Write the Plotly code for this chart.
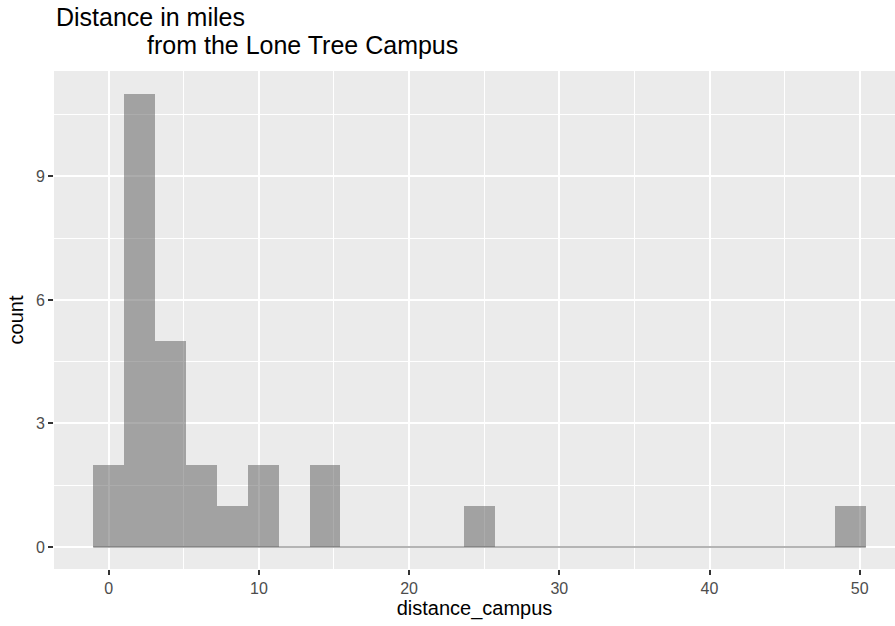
import plotly.graph_objects as go

# Histogram data (25 bins, ggplot-style, first bin centred at 0)
bin_start = 0.0
bin_width = 2.0575
counts = [2, 11, 5, 2, 1, 2, 0, 2, 0, 0, 0, 0, 1, 0, 0, 0, 0, 0, 0, 0, 0, 0, 0, 0, 1]
x_ticks = [0, 10, 20, 30, 40, 50]
y_ticks = [0, 3, 6, 9]
title_line1 = "Distance in miles"
title_line2 = "from the Lone Tree Campus"

centers = [bin_start + i * bin_width for i in range(len(counts))]
left_edge = centers[0] - bin_width / 2
right_edge = centers[-1] + bin_width / 2

FONT = "Liberation Sans, Arial, Helvetica, sans-serif"
fill = "rgba(89,89,89,0.5)"

fig = go.Figure()
fig.add_trace(go.Scatter(x=[left_edge, right_edge], y=[0, 0], mode="lines",
                         line=dict(color="rgba(89,89,89,0.6)", width=1.5), hoverinfo="skip",
                         showlegend=False))
fig.add_trace(go.Bar(x=centers, y=counts, width=bin_width,
                     marker=dict(color=fill, line=dict(width=0)),
                     showlegend=False))

fig.update_layout(
    width=895, height=626,
    margin=dict(l=54, r=0, t=71, b=57),
    paper_bgcolor="white", plot_bgcolor="#EBEBEB",
    bargap=0,
    font=dict(family=FONT, color="black"),
    xaxis=dict(range=[-3.64, 52.35], tickvals=x_ticks, ticktext=[str(v) for v in x_ticks],
               showgrid=True, gridcolor="white", gridwidth=2, zeroline=False,
               ticks="outside", ticklen=5, tickwidth=1.5, tickcolor="#333333",
               tickfont=dict(size=16, color="#4D4D4D"),
               minor=dict(tick0=5, dtick=10, showgrid=True, gridcolor="white", gridwidth=1, ticks=""),
               title=dict(text="distance_campus", font=dict(size=20, color="black"), standoff=4),
               showline=False, fixedrange=True),
    yaxis=dict(range=[-0.534, 11.56], tickvals=y_ticks, ticktext=[str(v) for v in y_ticks],
               showgrid=True, gridcolor="white", gridwidth=2, zeroline=False,
               ticks="outside", ticklen=5, tickwidth=1.5, tickcolor="#333333",
               tickfont=dict(size=16, color="#4D4D4D"),
               minor=dict(tick0=1.5, dtick=3, showgrid=True, gridcolor="white", gridwidth=1, ticks=""),
               title=dict(text="count", font=dict(size=20, color="black"), standoff=6),
               showline=False, fixedrange=True),
    annotations=[
        dict(text=title_line1, xref="paper", yref="paper",
             x=(54 - 54) / 841, y=1 + (71 - 26) / 498, xanchor="left", yanchor="bottom",
             yshift=-7, showarrow=False, font=dict(size=25, color="black", family=FONT)),
        dict(text=title_line2, xref="paper", yref="paper",
             x=(145 - 54) / 841, y=1 + (71 - 54) / 498, xanchor="left", yanchor="bottom",
             yshift=-7, showarrow=False, font=dict(size=25, color="black", family=FONT)),
    ],
)

fig.write_html("out.html", config={"displayModeBar": False},
               post_script="document.body.style.margin='0';document.body.style.overflow='hidden';")
